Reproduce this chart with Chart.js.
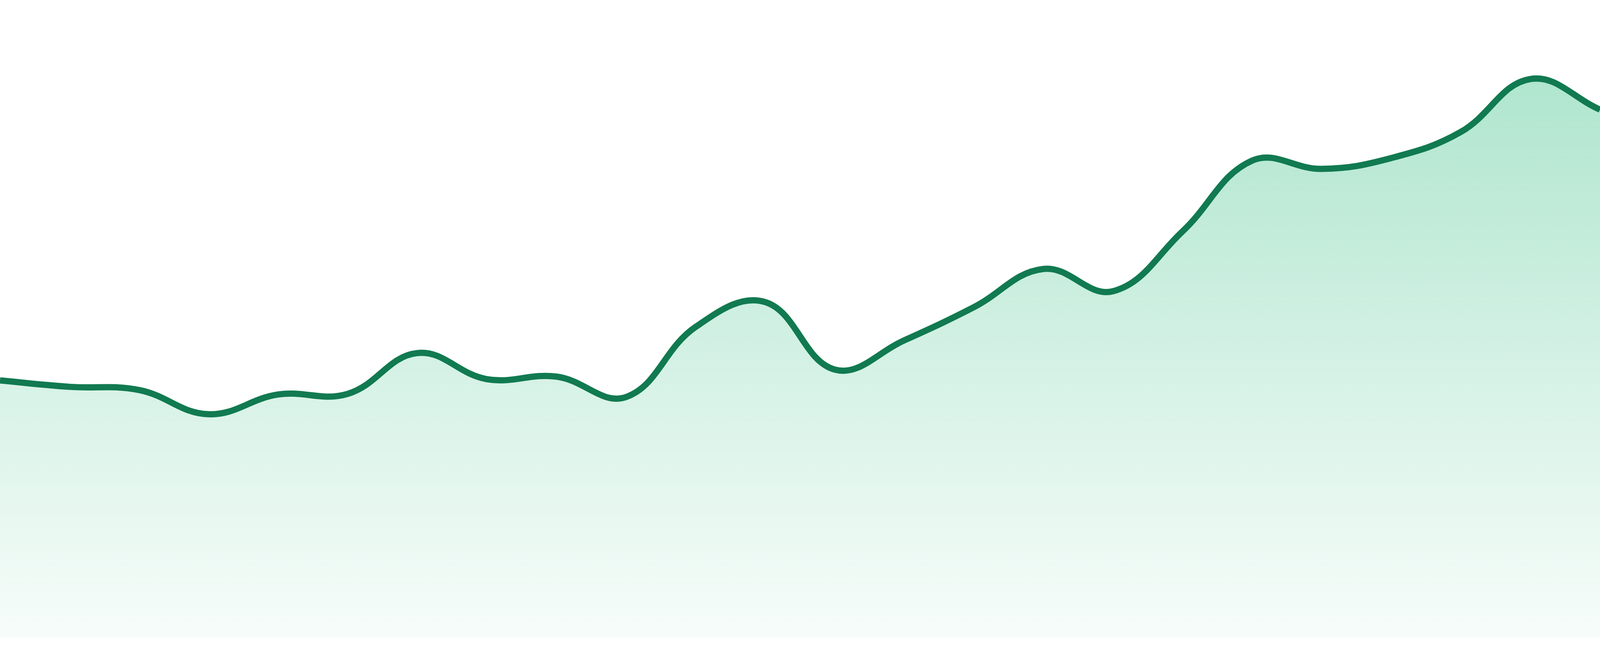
<!DOCTYPE html>
<html>
<head>
<meta charset="utf-8">
<script src="https://cdn.jsdelivr.net/npm/chart.js@4"></script>
<style>
  html, body { margin: 0; padding: 0; background: #ffffff; overflow: hidden; width: 100%; height: 100%; }
  #wrap { width: 100vw; height: 100vh; position: relative; }
  #c { display: block; }
</style>
</head>
<body>
<div id="wrap"><canvas id="c"></canvas></div>
<script>
const labels = ['1','2','3','4','5','6','7','8','9','10','11','12','13','14','15','16','17','18','19','20','21','22','23','24'];
const values = [40.3, 39.3, 38.8, 35.0, 38.1, 38.2, 44.6, 40.5, 40.9, 37.7, 48.7, 52.6,
                42.0, 46.6, 51.8, 57.8, 54.3, 63.7, 74.8, 73.5, 75.2, 79.3, 87.6, 82.8];
const yMin = 0;
const yMax = 100;

const lineColor = '#117a50';

// scale styles with the viewport so the picture keeps its proportions
const wrap = document.getElementById('wrap');
const k = wrap.clientHeight / 1680;

new Chart(document.getElementById('c'), {
  type: 'line',
  data: {
    labels: labels,
    datasets: [{
      data: values,
      borderColor: lineColor,
      borderWidth: 16 * k,
      pointRadius: 0,
      pointHoverRadius: 0,
      tension: 0.4,
      fill: 'start',
      backgroundColor: function(context) {
        const chart = context.chart;
        const area = chart.chartArea;
        if (!area) return 'rgba(52,190,130,0.2)';
        const g = chart.ctx.createLinearGradient(0, area.top, 0, area.bottom);
        g.addColorStop(0, 'rgba(52,190,130,0.44)');
        g.addColorStop(1, 'rgba(52,190,130,0.04)');
        return g;
      }
    }]
  },
  options: {
    responsive: true,
    maintainAspectRatio: false,
    animation: false,
    layout: { padding: { top: 0, bottom: 48 * k, left: 0, right: 0 } },
    plugins: { legend: { display: false }, tooltip: { enabled: false } },
    scales: {
      x: { display: false, offset: false },
      y: { display: false, min: yMin, max: yMax }
    }
  }
});
</script>
</body>
</html>
